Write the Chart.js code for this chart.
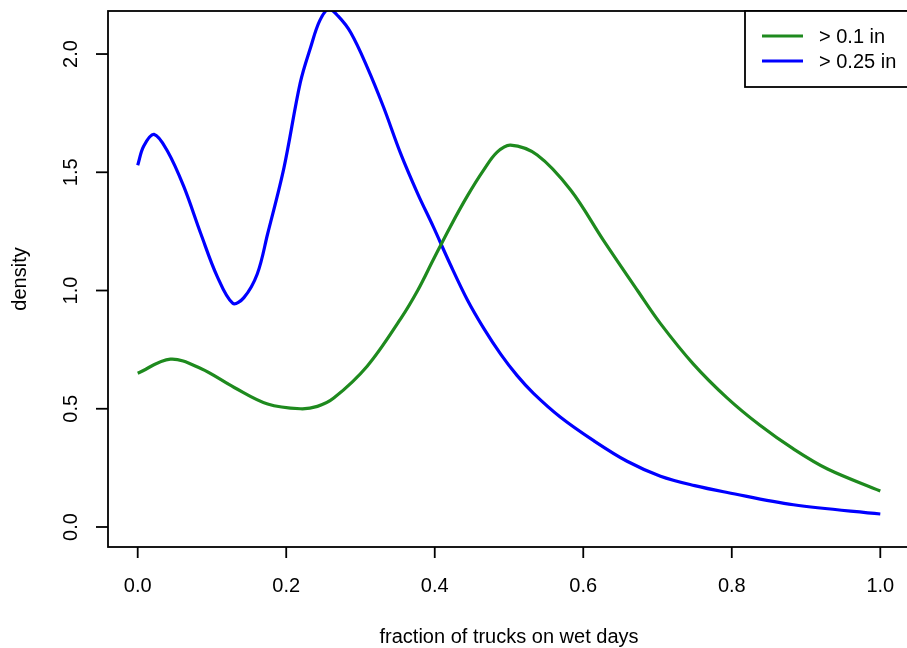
<!DOCTYPE html>
<html>
<head>
<meta charset="utf-8">
<title>density of wet-day truck fraction</title>
<script src="https://cdn.jsdelivr.net/npm/chart.js@4/dist/chart.umd.min.js"></script>
<style>
    html, body { margin: 0; padding: 0; background: #fff; overflow: hidden; }
    #wrap { width: 907px; height: 648px; overflow: hidden; }
</style>
</head>
<body>
<div id="wrap"><canvas id="densityChart" width="915" height="648"></canvas></div>
<script>
// series: fraction of trucks on wet days (x) and density (y)
const seriesNames = ['> 0.1 in', '> 0.25 in'];

const wet01X = [0, 0.044, 0.085, 0.13, 0.175, 0.219, 0.242, 0.264, 0.309, 0.354, 0.377, 0.398, 0.421, 0.444,
    0.466, 0.484, 0.502, 0.538, 0.583, 0.627, 0.673, 0.704, 0.748, 0.794, 0.838, 0.883, 0.929, 1.0];
const wet01Y = [0.65, 0.71, 0.67, 0.59, 0.52, 0.50, 0.51, 0.545, 0.68, 0.88, 1.00, 1.13, 1.27, 1.40,
    1.51, 1.585, 1.615, 1.573, 1.425, 1.213, 1.0, 0.86, 0.69, 0.545, 0.43, 0.33, 0.245, 0.152];

const wet025X = [0, 0.008, 0.022, 0.04, 0.062, 0.085, 0.107, 0.128, 0.143, 0.161, 0.175, 0.197, 0.219,
    0.233, 0.245, 0.257, 0.27, 0.287, 0.309, 0.331, 0.354, 0.377, 0.398, 0.421, 0.444, 0.466, 0.489,
    0.511, 0.533, 0.569, 0.614, 0.659, 0.704, 0.75, 0.794, 0.883, 1.0];
const wet025Y = [1.53, 1.61, 1.66, 1.59, 1.44, 1.24, 1.06, 0.946, 0.97, 1.07, 1.24, 1.52, 1.88,
    2.03, 2.14, 2.19, 2.16, 2.09, 1.945, 1.776, 1.58, 1.41, 1.27, 1.11, 0.96, 0.84, 0.73,
    0.64, 0.565, 0.465, 0.365, 0.278, 0.215, 0.175, 0.146, 0.094, 0.055];

const xTicks = [0, 0.2, 0.4, 0.6, 0.8, 1.0];
const xTickLabels = ['0.0', '0.2', '0.4', '0.6', '0.8', '1.0'];
const yTicks = [0, 0.5, 1.0, 1.5, 2.0];
const yTickLabels = ['0.0', '0.5', '1.0', '1.5', '2.0'];

const xTitle = 'fraction of trucks on wet days';
const yTitle = 'density';

const FONT = '20px "Liberation Sans", Arial, sans-serif';

function toPoints(xs, ys) {
    return xs.map((v, i) => ({ x: v, y: ys[i] }));
}

// R-style frame, ticks, labels and legend
const basePlot = {
    id: 'basePlot',
    afterDraw(chart) {
        const { ctx, chartArea: a, scales } = chart;
        const x = scales.x, y = scales.y;
        ctx.save();
        ctx.strokeStyle = '#000';
        ctx.fillStyle = '#000';
        ctx.lineWidth = 1.8;
        ctx.strokeRect(a.left, a.top, a.right - a.left, a.bottom - a.top);

        ctx.font = FONT;
        ctx.textAlign = 'center';
        ctx.textBaseline = 'middle';

        // x axis
        xTicks.forEach((t, i) => {
            const px = x.getPixelForValue(t);
            ctx.beginPath();
            ctx.moveTo(px, a.bottom);
            ctx.lineTo(px, a.bottom + 11);
            ctx.stroke();
            ctx.fillText(xTickLabels[i], px, 586);
        });
        ctx.fillText(xTitle, (a.left + a.right) / 2, 637);

        // y axis
        yTicks.forEach((t, i) => {
            const py = y.getPixelForValue(t);
            ctx.beginPath();
            ctx.moveTo(a.left, py);
            ctx.lineTo(a.left - 12, py);
            ctx.stroke();
            ctx.save();
            ctx.translate(71, py);
            ctx.rotate(-Math.PI / 2);
            ctx.fillText(yTickLabels[i], 0, 0);
            ctx.restore();
        });
        ctx.save();
        ctx.translate(20, (a.top + a.bottom) / 2);
        ctx.rotate(-Math.PI / 2);
        ctx.fillText(yTitle, 0, 0);
        ctx.restore();

        // legend
        const lx = 745, ly = a.top, lw = 180, lh = 76;
        ctx.fillStyle = '#fff';
        ctx.fillRect(lx, ly, lw, lh);
        ctx.strokeRect(lx, ly, lw, lh);
        ctx.textAlign = 'left';
        chart.data.datasets.forEach((ds, i) => {
            const cy = 36 + i * 25;
            ctx.strokeStyle = ds.borderColor;
            ctx.lineWidth = 3.2;
            ctx.beginPath();
            ctx.moveTo(762, cy);
            ctx.lineTo(803, cy);
            ctx.stroke();
            ctx.fillStyle = '#000';
            ctx.fillText(ds.label, 819, cy + 1);
        });
        ctx.restore();
    }
};

const config = {
    type: 'line',
    data: {
        datasets: [
            {
                label: seriesNames[0],
                data: toPoints(wet01X, wet01Y),
                borderColor: '#1e8a1e',
                borderWidth: 3.2,
                pointRadius: 0,
                tension: 0.35,
                clip: 0
            },
            {
                label: seriesNames[1],
                data: toPoints(wet025X, wet025Y),
                borderColor: '#0000ff',
                borderWidth: 3.2,
                pointRadius: 0,
                tension: 0.35,
                clip: 0
            }
        ]
    },
    options: {
        responsive: false,
        animation: false,
        layout: { padding: { left: 108, top: 11, right: 5, bottom: 101 } },
        plugins: {
            legend: { display: false },
            tooltip: { enabled: false }
        },
        scales: {
            x: { type: 'linear', min: -0.04, max: 1.04, display: false },
            y: { type: 'linear', min: -0.0846, max: 2.182, display: false }
        }
    },
    plugins: [basePlot]
};

const ctx = document.getElementById('densityChart').getContext('2d');
new Chart(ctx, config);
</script>
</body>
</html>
